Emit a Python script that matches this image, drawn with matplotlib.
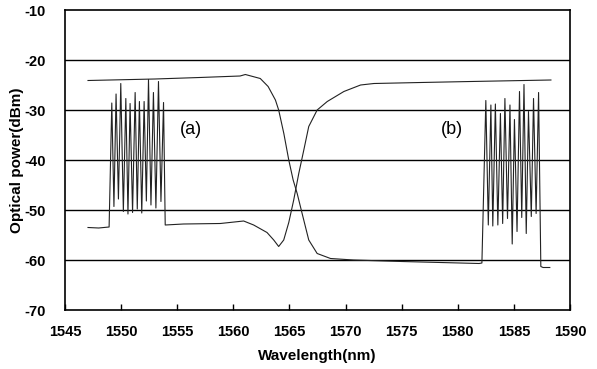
import matplotlib
matplotlib.use("Agg")
import matplotlib.pyplot as plt

plt.rcParams['font.family'] = ['Liberation Sans', 'DejaVu Sans']
plt.rcParams['axes.unicode_minus'] = False

# curve 1: comb (a) then the rising edge of the filter
c1_left_wl = [1547.05, 1548.0, 1548.93]
c1_left_db = [-53.5, -53.6, -53.4]
comb_a_peak_wl = [1549.17, 1549.55, 1549.97, 1550.42, 1550.80, 1551.25,
                  1551.63, 1552.05, 1552.44, 1552.88, 1553.33, 1553.78]
comb_a_peak_db = [-28.6, -26.8, -24.7, -27.7, -28.7, -26.5,
                  -28.3, -28.3, -23.9, -26.5, -24.3, -28.5]
comb_a_trough_wl = [1549.36, 1549.76, 1550.20, 1550.61, 1551.02, 1551.44,
                    1551.84, 1552.25, 1552.66, 1553.10, 1553.55]
comb_a_trough_db = [-49.3, -47.8, -50.3, -50.8, -50.5, -49.8,
                    -50.6, -48.2, -49.0, -49.6, -48.3]
c1_right_wl = [1553.93, 1555.56, 1558.84, 1560.92, 1561.81, 1563.0, 1563.6,
               1564.04, 1564.49, 1564.94, 1565.38, 1565.83, 1566.28, 1566.72,
               1567.47, 1568.37, 1569.85, 1571.34, 1572.53, 1576.7, 1581.16,
               1588.3]
c1_right_db = [-53.0, -52.8, -52.7, -52.2, -53.0, -54.5, -56.0,
               -57.3, -56.0, -52.5, -48.0, -42.7, -38.0, -33.3,
               -30.0, -28.3, -26.3, -25.0, -24.7, -24.5, -24.3,
               -24.0]

# curve 2: flat pass band, falling edge, then comb (b)
c2_left_wl = [1547.05, 1553.0, 1557.0, 1560.6, 1561.07, 1562.4, 1563.1,
              1563.75, 1564.04, 1564.5, 1564.94, 1565.33, 1565.69, 1566.13,
              1566.72, 1567.47, 1568.66, 1570.7, 1575.0, 1581.9, 1582.15]
c2_left_db = [-24.1, -23.8, -23.5, -23.2, -22.9, -23.7, -25.3,
              -28.0, -30.0, -34.7, -40.0, -44.0, -46.7, -50.7,
              -56.0, -58.7, -59.7, -60.0, -60.3, -60.7, -60.6]
comb_b_peak_wl = [1582.50, 1582.95, 1583.35, 1583.80, 1584.20, 1584.65,
                  1585.05, 1585.50, 1585.90, 1586.30, 1586.75, 1587.20]
comb_b_peak_db = [-28.1, -29.0, -28.8, -30.7, -27.7, -29.0,
                  -31.9, -26.3, -24.9, -30.3, -27.7, -26.5]
comb_b_trough_wl = [1582.72, 1583.12, 1583.57, 1584.00, 1584.43, 1584.85,
                    1585.28, 1585.70, 1586.10, 1586.55, 1586.98]
comb_b_trough_db = [-53.0, -53.2, -53.0, -52.7, -51.7, -56.8,
                    -54.3, -51.5, -54.7, -51.3, -50.7]
c2_right_wl = [1587.40, 1587.6, 1588.2]
c2_right_db = [-61.3, -61.5, -61.5]

xticks = [1545, 1550, 1555, 1560, 1565, 1570, 1575, 1580, 1585, 1590]
yticks = [-70, -60, -50, -40, -30, -20, -10]


def comb(peak_wl, peak_db, trough_wl, trough_db):
    wl, db = [], []
    for i in range(len(peak_wl)):
        wl.append(peak_wl[i])
        db.append(peak_db[i])
        if i < len(trough_wl):
            wl.append(trough_wl[i])
            db.append(trough_db[i])
    return wl, db


a_wl, a_db = comb(comb_a_peak_wl, comb_a_peak_db, comb_a_trough_wl, comb_a_trough_db)
b_wl, b_db = comb(comb_b_peak_wl, comb_b_peak_db, comb_b_trough_wl, comb_b_trough_db)

x1 = c1_left_wl + a_wl + c1_right_wl
y1 = c1_left_db + a_db + c1_right_db
x2 = c2_left_wl + b_wl + c2_right_wl
y2 = c2_left_db + b_db + c2_right_db

fig = plt.figure(figsize=(5.97, 3.69), dpi=100)
ax = fig.add_axes([65 / 597, 1 - 310 / 369, 505 / 597, 300 / 369])

for y in yticks[1:-1]:
    ax.axhline(y, color='black', lw=1.0, zorder=1)

ax.plot(x1, y1, color='#222222', lw=0.8, zorder=2)
ax.plot(x2, y2, color='#222222', lw=0.8, zorder=2)

ax.text(1556.2, -34, '(a)', fontsize=13, ha='center', va='center')
ax.text(1579.5, -34, '(b)', fontsize=13, ha='center', va='center')

ax.set_xlim(1545, 1590)
ax.set_ylim(-70, -10)
ax.set_xticks(xticks)
ax.set_yticks(yticks)
ax.tick_params(axis='x', direction='in', length=4, width=1, pad=11, labelsize=10.5)
ax.tick_params(axis='y', length=0, pad=14, labelsize=10.5)
for lab in ax.get_xticklabels() + ax.get_yticklabels():
    lab.set_fontweight('bold')
for s in ax.spines.values():
    s.set_linewidth(1.2)

ax.set_xlabel('Wavelength(nm)', fontsize=11, fontweight='bold')
ax.set_ylabel('Optical power(dBm)', fontsize=11, fontweight='bold')
ax.xaxis.set_label_coords(0.5, -0.13)
ax.yaxis.set_label_coords(-0.082, 0.5)

fig.savefig('out.png', dpi=100)
